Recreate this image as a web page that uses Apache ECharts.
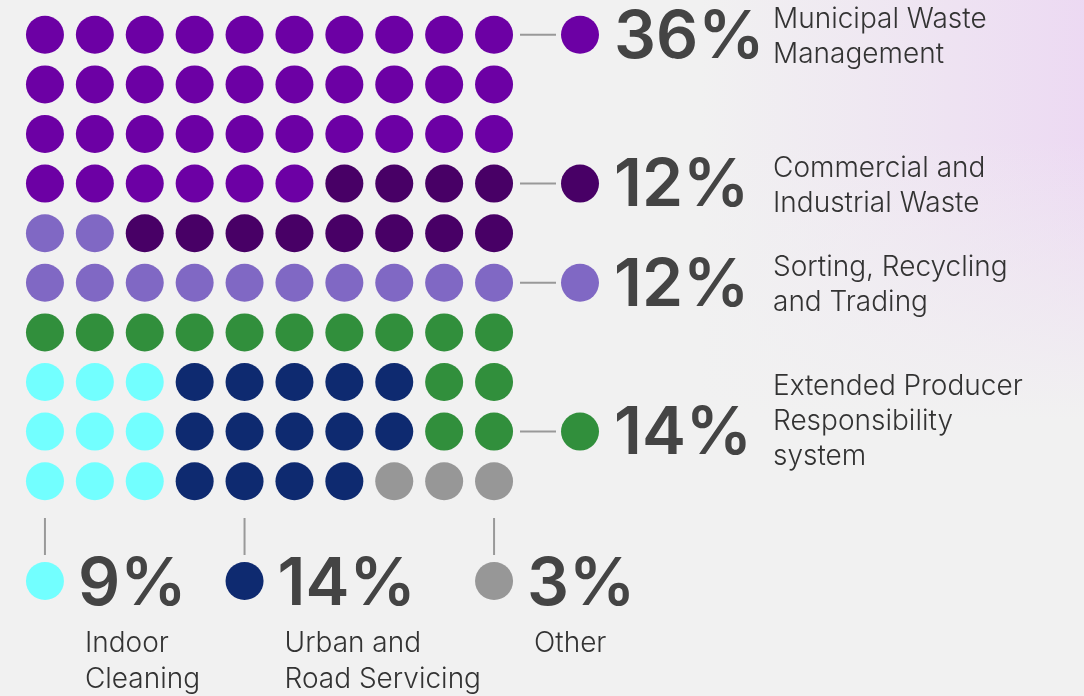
<!DOCTYPE html>
<html><head><meta charset="utf-8">
<script src="https://cdn.jsdelivr.net/npm/echarts@6/dist/echarts.min.js"></script>
<style>html,body{margin:0;padding:0;background:#f1f1f1;} #c{width:1084px;height:696px;}</style>
</head><body><div id="c"></div>
<script>
const categories = ['Municipal Waste Management', 'Commercial and Industrial Waste', 'Sorting, Recycling and Trading', 'Extended Producer Responsibility system', 'Indoor Cleaning', 'Urban and Road Servicing', 'Other'];
const labelLines = [['Municipal Waste', 'Management'], ['Commercial and', 'Industrial Waste'], ['Sorting, Recycling', 'and Trading'], ['Extended Producer', 'Responsibility', 'system'], ['Indoor', 'Cleaning'], ['Urban and', 'Road Servicing'], ['Other']];
const values = [36, 12, 12, 14, 9, 14, 3];
const colors = ['#6c00a4', '#480066', '#8068c4', '#318f3c', '#72ffff', '#0e2a70', '#979797'];
// waffle layout: category index of each cell, top row first
const gridRows = [
  '0000000000',
  '0000000000',
  '0000000000',
  '0000001111',
  '2211111111',
  '2222222222',
  '3333333333',
  '4445555533',
  '4445555533',
  '4445555666'
];
const colLabels = ['0','1','2','3','4','5','6','7','8','9'];
const rowLabels = ['0','1','2','3','4','5','6','7','8','9'];
// where each legend entry attaches: side and row/column index
const anchorSide = ['right', 'right', 'right', 'right', 'bottom', 'bottom', 'bottom'];
const anchorIndex = [0, 3, 5, 8, 0, 4, 9];

const chart = echarts.init(document.getElementById('c'), null, {renderer: 'canvas'});

const seriesData = categories.map(() => []);
gridRows.forEach((row, r) => {
  row.split('').forEach((ch, c) => { seriesData[+ch].push([colLabels[c], rowLabels[r]]); });
});

const GL = 20, GT = 10, GW = 499, GH = 496;
chart.setOption({
  backgroundColor: '#f1f1f1',
  animation: false,
  grid: {left: GL, top: GT, width: GW, height: GH},
  xAxis: {type: 'category', data: colLabels, show: false},
  yAxis: {type: 'category', data: rowLabels, inverse: true, show: false},
  series: categories.map((name, i) => ({
    type: 'scatter', name: name, data: seriesData[i], symbolSize: 38,
    itemStyle: {color: colors[i], opacity: 1}, silent: true
  }))
});

const gridRight = GL + GW, gridBottom = GT + GH;
const graphics = [{
  type: 'rect', z: -10, silent: true,
  shape: {x: 0, y: 0, width: 1084, height: 696},
  style: {fill: {type: 'linear', x: 700, y: 0, x2: 1084, y2: 0, global: true,
    colorStops: [{offset: 0, color: 'rgba(236,220,242,0)'}, {offset: 1, color: 'rgba(236,215,243,0.9)'}]}}
}, {
  type: 'rect', z: -9, silent: true,
  shape: {x: 0, y: 0, width: 1084, height: 696},
  style: {fill: {type: 'linear', x: 0, y: 140, x2: 0, y2: 420, global: true,
    colorStops: [{offset: 0, color: 'rgba(241,241,241,0)'}, {offset: 1, color: 'rgba(241,241,241,1)'}]}}
}];
const pctFont = '600 66px Inter, "Noto Sans", sans-serif';
const lblFont = '300 28px Inter, "Noto Sans", sans-serif';
const labelDy = [2, 2, 2, -10];
categories.forEach((name, i) => {
  if (anchorSide[i] === 'right') {
    const y = chart.convertToPixel({gridIndex: 0}, [0, anchorIndex[i]])[1];
    graphics.push({type: 'line', silent: true, shape: {x1: gridRight + 1, y1: y, x2: gridRight + 37, y2: y}, style: {stroke: '#999', lineWidth: 2}});
    graphics.push({type: 'circle', silent: true, shape: {cx: gridRight + 61, cy: y, r: 19}, style: {fill: colors[i]}});
    graphics.push({type: 'text', silent: true, x: gridRight + 95, y: y + 3, style: {text: values[i] + '%', font: pctFont, fill: '#444', textAlign: 'left', textVerticalAlign: 'middle', align: 'left', verticalAlign: 'middle'}});
    graphics.push({type: 'text', silent: true, x: 773, y: y + labelDy[i], style: {text: labelLines[i].join('\n'), font: lblFont, lineHeight: 35, fill: '#333', textAlign: 'left', textVerticalAlign: 'middle', align: 'left', verticalAlign: 'middle'}});
  } else {
    const x = chart.convertToPixel({gridIndex: 0}, [anchorIndex[i], 0])[0];
    graphics.push({type: 'line', silent: true, shape: {x1: x, y1: gridBottom + 12, x2: x, y2: gridBottom + 49}, style: {stroke: '#999', lineWidth: 2}});
    graphics.push({type: 'circle', silent: true, shape: {cx: x, cy: gridBottom + 75, r: 19}, style: {fill: colors[i]}});
    graphics.push({type: 'text', silent: true, x: x + 33, y: gridBottom + 79, style: {text: values[i] + '%', font: pctFont, fill: '#444', textAlign: 'left', textVerticalAlign: 'middle', align: 'left', verticalAlign: 'middle'}});
    graphics.push({type: 'text', silent: true, x: x + 40, y: gridBottom + 120, style: {text: labelLines[i].join('\n'), font: lblFont, lineHeight: 36, fill: '#333', textAlign: 'left', textVerticalAlign: 'top', align: 'left', verticalAlign: 'top'}});
  }
});
chart.setOption({graphic: graphics});
</script>
</body></html>
